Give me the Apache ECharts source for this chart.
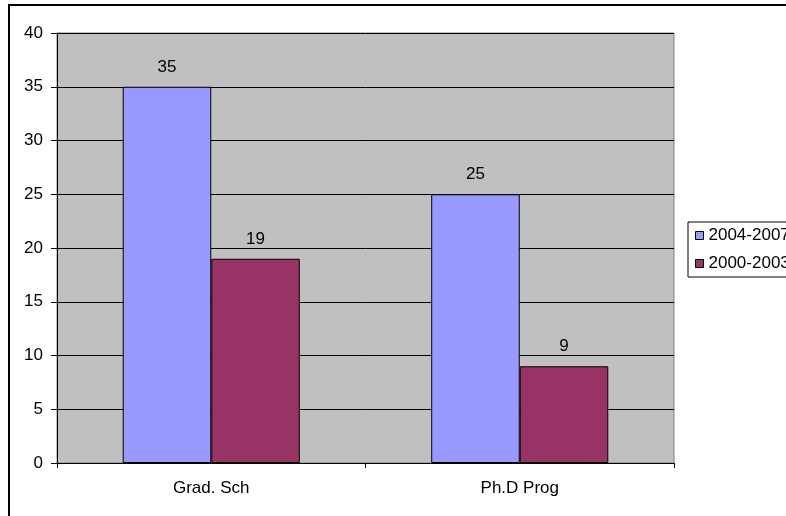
<!DOCTYPE html>
<html>
<head>
<meta charset="utf-8">
<script src="https://cdn.jsdelivr.net/npm/echarts@6/dist/echarts.min.js"></script>
<style>
  html, body { margin: 0; padding: 0; background: #fff; }
  #chart { width: 786px; height: 516px; }
</style>
</head>
<body>
<div id="chart"></div>
<script>
// Program counts per category, two periods
const categories = ['Grad. Sch', 'Ph.D Prog'];
const period2004 = [35, 25];
const period2000 = [19, 9];
const seriesNames = ['2004-2007', '2000-2003'];
const yTicks = { min: 0, max: 40, interval: 5 };

const FONT = 'Liberation Sans, Arial, sans-serif';
const FS = 17;
const chart = echarts.init(document.getElementById('chart'), null, { renderer: 'canvas' });

const barLabel = {
  show: true,
  position: 'top',
  distance: 11,
  color: '#000',
  fontFamily: FONT,
  fontSize: FS
};

chart.setOption({
  animation: false,
  backgroundColor: '#fff',
  textStyle: { fontFamily: FONT },
  graphic: [{
    type: 'rect',
    z: 100,
    shape: { x: 9, y: 5, width: 820, height: 560 },
    style: { fill: 'none', stroke: '#000', lineWidth: 2 }
  }],
  grid: {
    left: 57, right: 112, top: 33, bottom: 53,
    show: true,
    backgroundColor: '#c0c0c0',
    borderColor: '#808080',
    borderWidth: 1
  },
  legend: {
    orient: 'vertical',
    left: 688, top: 222,
    padding: [5, 6, 5, 7],
    itemGap: 11,
    itemWidth: 8, itemHeight: 8,
    icon: 'rect',
    borderColor: '#000',
    borderWidth: 1,
    textStyle: { color: '#000', fontFamily: FONT, fontSize: FS },
    itemStyle: { borderColor: '#000', borderWidth: 1 },
    data: seriesNames
  },
  xAxis: {
    type: 'category',
    data: categories,
    axisLine: { lineStyle: { color: '#000', width: 1 } },
    axisTick: { show: true, alignWithLabel: false, length: 5, lineStyle: { color: '#000' } },
    axisLabel: { color: '#000', fontFamily: FONT, fontSize: FS, margin: 17 },
    splitLine: { show: false }
  },
  yAxis: {
    type: 'value',
    min: yTicks.min, max: yTicks.max, interval: yTicks.interval,
    axisLine: { show: true, lineStyle: { color: '#000', width: 1 } },
    axisTick: { show: true, length: 6, lineStyle: { color: '#000' } },
    axisLabel: { color: '#000', fontFamily: FONT, fontSize: FS, margin: 14 },
    splitLine: { show: true, lineStyle: { color: '#000', width: 1 } }
  },
  series: [
    {
      name: seriesNames[0],
      type: 'bar',
      data: period2004,
      barGap: '0%',
      barCategoryGap: '42.6%',
      itemStyle: { color: '#9999ff', borderColor: '#000', borderWidth: 1 },
      label: barLabel
    },
    {
      name: seriesNames[1],
      type: 'bar',
      data: period2000,
      barGap: '0%',
      barCategoryGap: '42.6%',
      itemStyle: { color: '#993366', borderColor: '#000', borderWidth: 1 },
      label: barLabel
    }
  ]
});
</script>
</body>
</html>
